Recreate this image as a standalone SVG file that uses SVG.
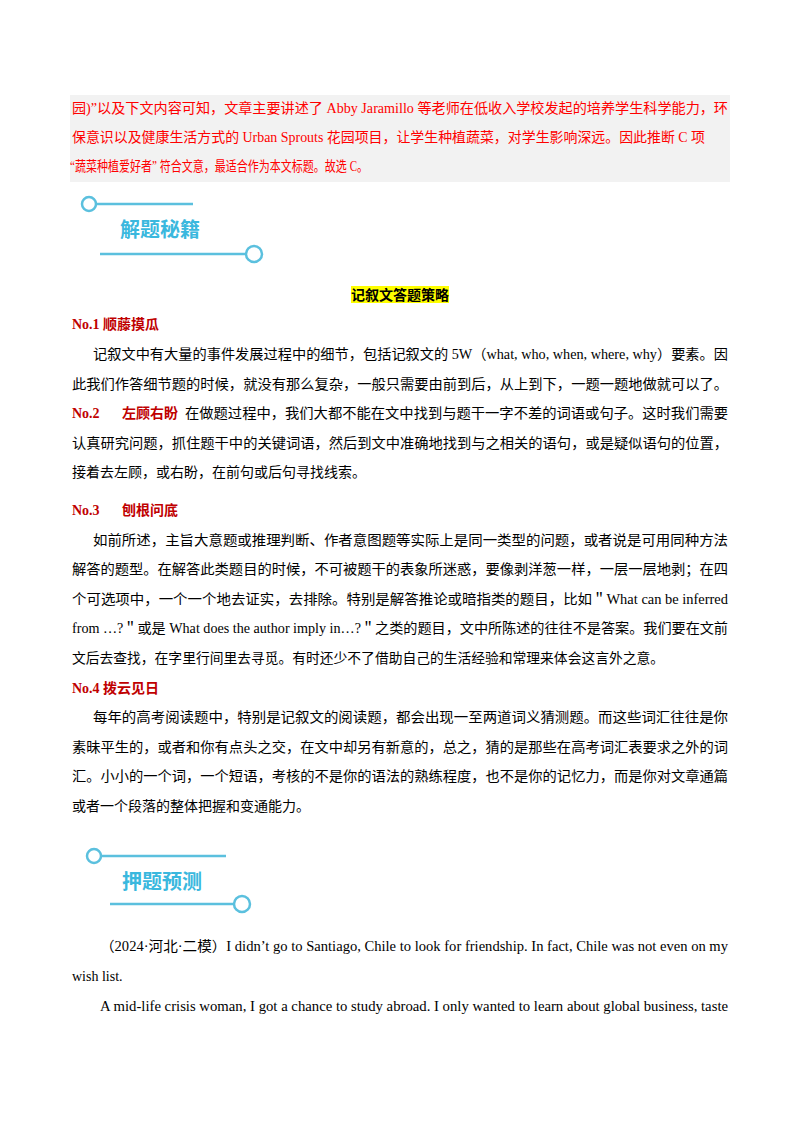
<svg xmlns="http://www.w3.org/2000/svg" width="800" height="1132" viewBox="0 0 800 1132">
<style>
.t{font-family:"Liberation Serif","Noto Sans CJK SC",serif;font-size:14px;fill:#000}
.r{fill:#ff0000}
.h{font-family:"Liberation Serif","Noto Sans CJK SC",serif;font-size:14px;font-weight:bold;fill:#c00000}
.b{font-family:"Noto Sans CJK SC",sans-serif;font-size:20px;font-weight:bold;fill:#3ab8de}
.ln{stroke:#5bc0de;stroke-width:2.5;fill:none}
.c{stroke:#5bc0de;stroke-width:2.5;fill:#fff}
</style>
<rect width="800" height="1132" fill="#fff"/>
<rect x="70" y="95" width="660" height="87" fill="#f2f2f2"/>
<g class="t r">
<text x="72" y="113" textLength="656" lengthAdjust="spacingAndGlyphs">园)”以及下文内容可知，文章主要讲述了 Abby Jaramillo 等老师在低收入学校发起的培养学生科学能力，环</text>
<text x="72" y="142" textLength="633" lengthAdjust="spacingAndGlyphs">保意识以及健康生活方式的 Urban Sprouts 花园项目，让学生种植蔬菜，对学生影响深远。因此推断 C 项</text>
<text x="70" y="171" textLength="298" lengthAdjust="spacingAndGlyphs">“蔬菜种植爱好者” 符合文意，最适合作为本文标题。故选 C。</text>
</g>
<g id="badge1">
<line class="ln" x1="92" y1="204" x2="193" y2="204"/>
<circle class="c" cx="89" cy="204" r="7"/>
<line class="ln" x1="100" y1="254" x2="248" y2="254"/>
<circle class="c" cx="254" cy="254" r="8"/>
<text class="b" x="120" y="237">解题秘籍</text>
</g>
<rect x="351" y="286" width="98" height="17" fill="#ffff00"/>
<text class="t" x="400" y="300" text-anchor="middle" font-weight="bold">记叙文答题策略</text>
<text class="h" x="72" y="329">No.1 顺藤摸瓜</text>
<g class="t">
<text x="93" y="359" textLength="635" lengthAdjust="spacingAndGlyphs">记叙文中有大量的事件发展过程中的细节，包括记叙文的 5W（what, who, when, where, why）要素。因</text>
<text x="72" y="389" textLength="656" lengthAdjust="spacingAndGlyphs">此我们作答细节题的时候，就没有那么复杂，一般只需要由前到后，从上到下，一题一题地做就可以了。</text>
</g>
<text class="h" x="72" y="418">No.2</text>
<text class="h" x="122" y="418">左顾右盼</text>
<g class="t">
<text x="185" y="418" textLength="543" lengthAdjust="spacingAndGlyphs">在做题过程中，我们大都不能在文中找到与题干一字不差的词语或句子。这时我们需要</text>
<text x="72" y="448" textLength="656" lengthAdjust="spacingAndGlyphs">认真研究问题，抓住题干中的关键词语，然后到文中准确地找到与之相关的语句，或是疑似语句的位置，</text>
<text x="72" y="477">接着去左顾，或右盼，在前句或后句寻找线索。</text>
</g>
<text class="h" x="72" y="515">No.3</text>
<text class="h" x="122" y="515">刨根问底</text>
<g class="t">
<text x="93" y="545" textLength="635" lengthAdjust="spacingAndGlyphs">如前所述，主旨大意题或推理判断、作者意图题等实际上是同一类型的问题，或者说是可用同种方法</text>
<text x="72" y="574" textLength="656" lengthAdjust="spacingAndGlyphs">解答的题型。在解答此类题目的时候，不可被题干的表象所迷惑，要像剥洋葱一样，一层一层地剥；在四</text>
<text x="72" y="604" textLength="656" lengthAdjust="spacingAndGlyphs">个可选项中，一个一个地去证实，去排除。特别是解答推论或暗指类的题目，比如＂What can be inferred</text>
<text x="72" y="633" textLength="656" lengthAdjust="spacingAndGlyphs">from …?＂或是 What does the author imply in…?＂之类的题目，文中所陈述的往往不是答案。我们要在文前</text>
<text x="72" y="663" textLength="592" lengthAdjust="spacingAndGlyphs">文后去查找，在字里行间里去寻觅。有时还少不了借助自己的生活经验和常理来体会这言外之意。</text>
</g>
<text class="h" x="72" y="693">No.4 拨云见日</text>
<g class="t">
<text x="93" y="722" textLength="635" lengthAdjust="spacingAndGlyphs">每年的高考阅读题中，特别是记叙文的阅读题，都会出现一至两道词义猜测题。而这些词汇往往是你</text>
<text x="72" y="752" textLength="656" lengthAdjust="spacingAndGlyphs">素昧平生的，或者和你有点头之交，在文中却另有新意的，总之，猜的是那些在高考词汇表要求之外的词</text>
<text x="72" y="781" textLength="656" lengthAdjust="spacingAndGlyphs">汇。小小的一个词，一个短语，考核的不是你的语法的熟练程度，也不是你的记忆力，而是你对文章通篇</text>
<text x="72" y="811">或者一个段落的整体把握和变通能力。</text>
</g>
<g id="badge2">
<line class="ln" x1="96" y1="856" x2="226" y2="856"/>
<circle class="c" cx="94" cy="856" r="7"/>
<line class="ln" x1="110" y1="904" x2="238" y2="904"/>
<circle class="c" cx="242" cy="904" r="8"/>
<text class="b" x="122" y="889">押题预测</text>
</g>
<g class="t">
<text x="100" y="951" textLength="628" lengthAdjust="spacingAndGlyphs">（2024·河北·二模）I didn’t go to Santiago, Chile to look for friendship. In fact, Chile was not even on my</text>
<text x="72" y="981">wish list.</text>
<text x="100" y="1011" textLength="628" lengthAdjust="spacingAndGlyphs">A mid-life crisis woman, I got a chance to study abroad. I only wanted to learn about global business, taste</text>
</g>
</svg>
